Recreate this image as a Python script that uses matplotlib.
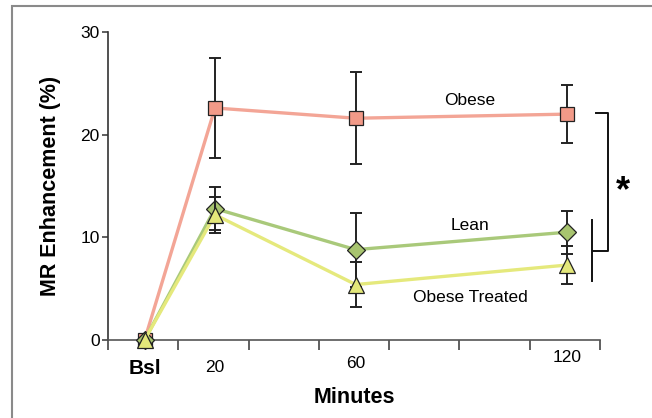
import numpy as np
import matplotlib
matplotlib.use('Agg')
import matplotlib.pyplot as plt
from matplotlib.patches import Rectangle
import matplotlib.transforms as mtransforms

plt.rcParams['font.family'] = ['Liberation Sans', 'DejaVu Sans']

# ---- data
times = [0, 20, 60, 120]
time_labels = ['Bsl', '20', '60', '120']

obese = [0.0, 22.6, 21.6, 22.0]
obese_err = [0.0, 4.9, 4.5, 2.8]

lean = [0.0, 12.8, 8.8, 10.5]
lean_err = [0.0, 2.1, 3.6, 2.1]

treated = [0.0, 12.2, 5.4, 7.3]
treated_err = [0.0, 1.75, 2.15, 1.85]

series_names = ['Obese', 'Lean', 'Obese Treated']

fig = plt.figure(figsize=(6.52, 4.18), dpi=100)
ax = fig.add_axes([108/652., 1 - 340/418., 492/652., 308/418.])

# frame round the whole figure
fig.patches.append(Rectangle((12/652., -0.2), 1.2, 1.2 - 6/418., transform=fig.transFigure,
                             fill=False, edgecolor='#8a8a8a', lw=1.5))

def draw(y, err, line_c, face_c, marker, ms, z):
    ax.errorbar(times[1:], y[1:], yerr=err[1:], fmt='none', ecolor='#222222',
                elinewidth=1.4, capsize=4.5, capthick=1.4, zorder=z)
    ax.plot(times, y, '-', color=line_c, lw=2.4, zorder=z + 1, solid_capstyle='round')
    ax.plot(times, y, linestyle='none', marker=marker, ms=ms, mfc=face_c,
            mec='#222222', mew=0.9, zorder=z + 2, clip_on=False)

draw(obese, obese_err, '#f3a596', '#f29a88', 's', 9.5, 3)
draw(lean, lean_err, '#a9c97a', '#a8c46f', 'D', 9.5, 6)
draw(treated, treated_err, '#e5e97c', '#e3e77a', '^', 12, 9)

xmin, xmax = -10.4, 129.4
ax.set_xlim(xmin, xmax)
ax.set_ylim(0, 30)
ax.set_xticks(np.linspace(xmin, xmax, 8))
ax.set_xticklabels([])
ax.set_yticks([0, 10, 20, 30])
ax.tick_params(axis='x', direction='out', length=7.5, width=1.2, color='#444444')
ax.tick_params(axis='y', direction='out', length=4, width=1.2, color='#444444',
               labelsize=12.5, pad=2)

for s in ['top', 'right']:
    ax.spines[s].set_visible(False)
ax.spines['left'].set_color('#333333')
ax.spines['bottom'].set_color('#555555')
ax.spines['left'].set_linewidth(1.2)
ax.spines['bottom'].set_linewidth(1.2)

# x tick labels sit at slightly different heights in the original
drops = [28, 27, 23, 18]
for t, lab, d in zip(times, time_labels, drops):
    tr = mtransforms.offset_copy(ax.get_xaxis_transform(), fig=fig, x=0, y=-d * 0.72, units='points')
    if lab == 'Bsl':
        ax.text(t, 0, lab, transform=tr, ha='center', va='center', fontsize=15, fontweight='bold')
    else:
        ax.text(t, 0, lab, transform=tr, ha='center', va='center', fontsize=12.5)

ax.set_xlabel('Minutes', fontsize=15.5, fontweight='bold', labelpad=23)
ax.set_ylabel('MR Enhancement (%)', fontsize=15.5, fontweight='bold', labelpad=14)

# series labels
ax.text(92.5, 23.3, series_names[0], ha='center', va='center', fontsize=12.5)
ax.text(92.5, 11.2, series_names[1], ha='center', va='center', fontsize=12.5)
ax.text(92.5, 4.1, series_names[2], ha='center', va='center', fontsize=12.5)

# significance bracket
k = dict(color='#111111', lw=1.4, clip_on=False)
ax.plot([128.2, 131.7, 131.7, 127.4], [22.1, 22.1, 8.67, 8.67], **k)
ax.plot([127.1, 127.1], [11.7, 5.7], **k)
ax.text(136.0, 14.4, '*', ha='center', va='center', fontsize=26, fontweight='bold')

plt.savefig('out.png', dpi=100)
